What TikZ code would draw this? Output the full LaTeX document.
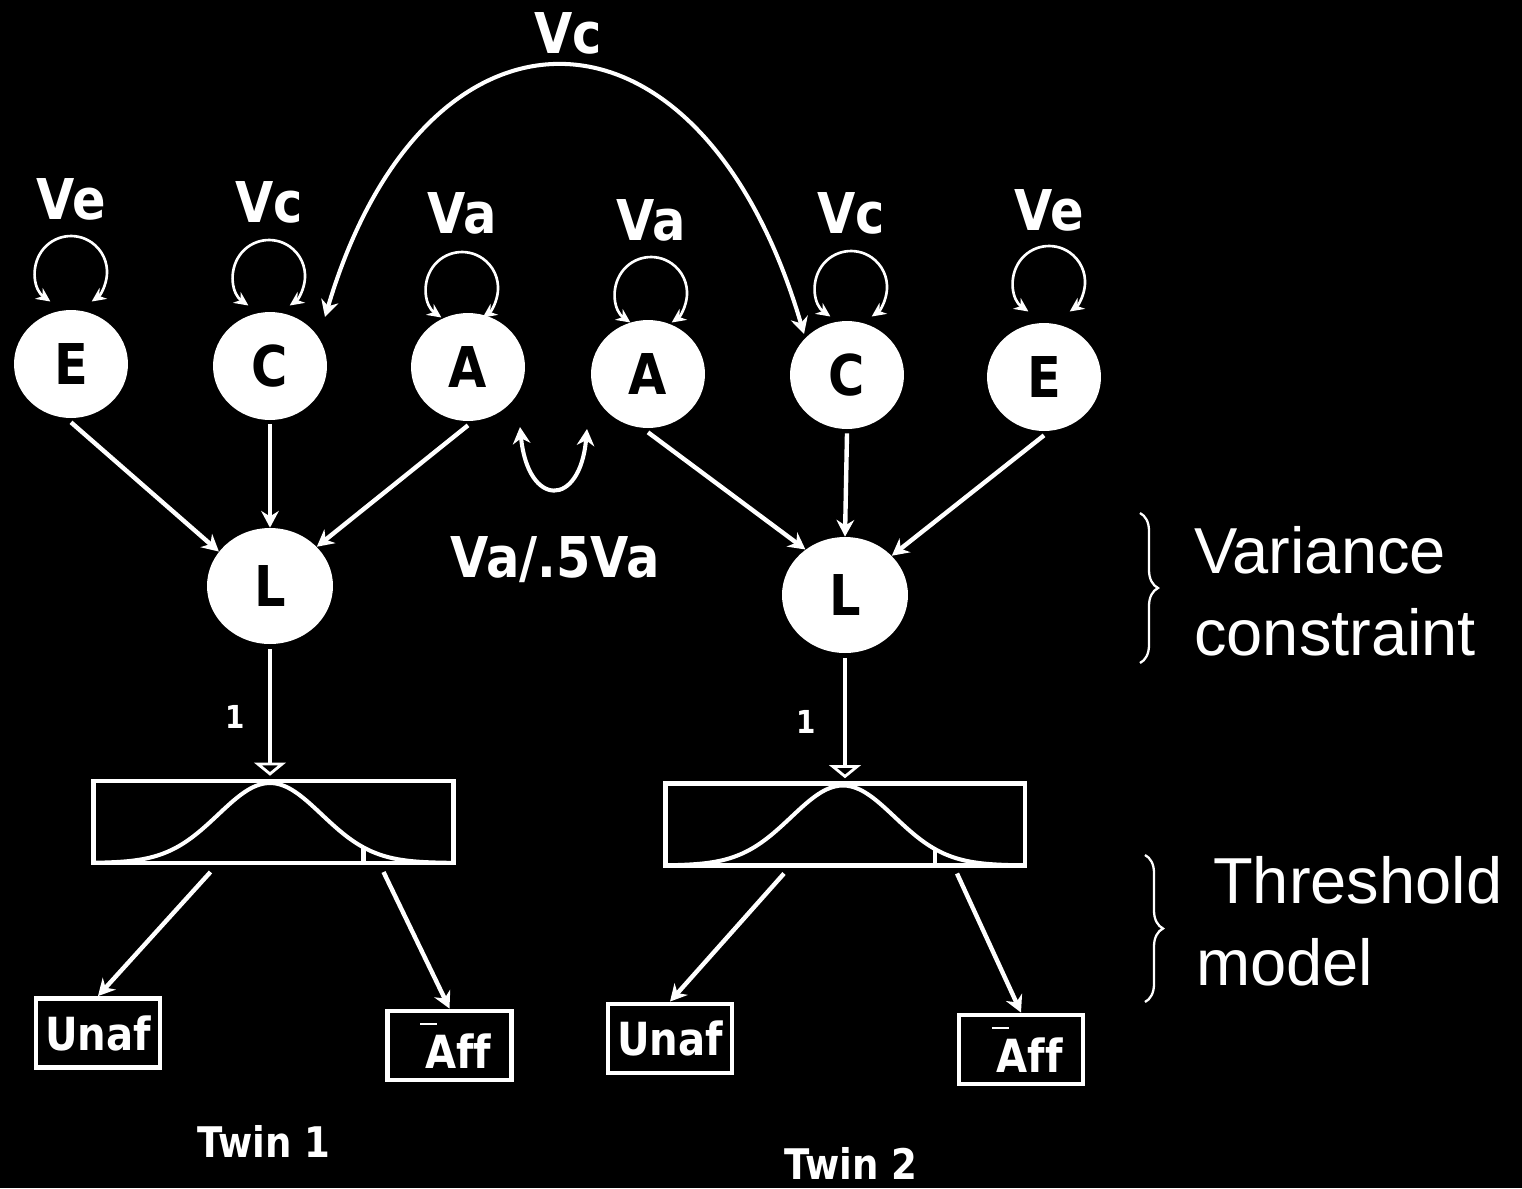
\documentclass[tikz,border=0pt]{standalone}
\usepackage{fontspec}
\newfontfamily\labfont{DejaVu Sans}[FakeStretch=0.88, Ligatures=NoCommon]
\newfontfamily\notefont{Liberation Sans}
\usetikzlibrary{arrows.meta}
\usetikzlibrary{shapes.geometric}
\usetikzlibrary{decorations.pathreplacing}

\newcommand{\affbar}{\hspace*{10pt}\makebox[0pt][l]{\hspace{-2.8pt}\raisebox{25pt}{\rule{9.6pt}{1.2pt}}}Af\kern0ptf}

\begin{document}
\begin{tikzpicture}[x=0.02cm, y=0.02cm,
    every node/.style={text=white},
    bigfont/.style={font=\labfont\bfseries\fontsize{32pt}{38pt}\selectfont},
    latent/.style={ellipse, fill=white, text=black, inner sep=0pt,
                   minimum width=2.28cm, minimum height=2.16cm, bigfont},
    liab/.style={latent, minimum width=2.52cm, minimum height=2.32cm},
    causal/.style={draw=white, line width=2.5pt, -{Stealth[length=9.5pt, width=10pt]}},
    selfloop/.style={draw=white, line width=1.5pt,
                     {Stealth[length=8pt, width=7.5pt]}-{Stealth[length=8pt, width=7.5pt]}},
    cov/.style={draw=white, line width=2.3pt,
                {Stealth[length=9.5pt, width=10pt]}-{Stealth[length=9.5pt, width=10pt]}},
    fix/.style={draw=white, line width=2.3pt, shorten >=3pt,
                -{Triangle[open, width=18pt, length=7.5pt, line width=1.6pt]}},
    thrbox/.style={draw=white, line width=2.8pt, outer sep=0pt, inner sep=0pt,
                   minimum width=7.2cm, minimum height=1.64cm},
    obsbox/.style={draw=white, line width=2.8pt, inner sep=0pt,
                   minimum width=2.48cm, minimum height=1.38cm,
                   font=\labfont\bfseries\fontsize{26pt}{30pt}\selectfont},
    bell/.style={draw=white, line width=2.3pt},
    onelab/.style={font=\labfont\bfseries\fontsize{18pt}{22pt}\selectfont},
    twinlab/.style={font=\labfont\bfseries\fontsize{24pt}{29pt}\selectfont},
    note/.style={font=\notefont\fontsize{37pt}{46pt}\selectfont, anchor=base west},
    brace1/.style={draw=white, line width=1.3pt, decorate,
                   decoration={brace, amplitude=0.36cm}}
  ]
  \useasboundingbox (0,0) rectangle (1522,-1188);
  \fill[black] (0,0) rectangle (1522,-1188);

  % latent factors, their variances and self loops
  \foreach \nm/\lab/\x/\y/\var/\lx/\vb/\ly in
     {E1/E/71/364/Ve/71/219/92, C1/C/270/366/Vc/269/222/90, A1/A/468/367/Va/462/233/79,
      A2/A/648/374/Va/651/240/81, C2/C/847/375/Vc/851/233/88, E2/E/1044/377/Ve/1049/230/95} {
     \node[latent] (\nm) at (\x,-\y) {\lab};
     \node[bigfont, anchor=base] (v\nm) at (\lx,-\vb) {\var};
     \draw[selfloop] ([shift={(\lx-\x-20.6,\ly-29.5)}]\nm.center)
        arc[start angle=235, end angle=-55, radius=36];
  }
  \node[liab] (L1) at (270,-586) {L};
  \node[liab] (L2) at (845,-595) {L};

  % paths to the liabilities
  \draw[causal] ([shift={(0,-4)}]E1.south) -- (L1.146);
  \draw[causal] ([shift={(0,-4)}]C1.south) -- (L1.north);
  \draw[causal] ([shift={(0,-4)}]A1.south) -- (L1.40);
  \draw[causal] ([shift={(0,-4)}]A2.south) -- (L2.131);
  \draw[causal] ([shift={(0,-4)}]C2.south) -- (L2.north);
  \draw[causal] ([shift={(0,-4)}]E2.south) -- (L2.40);

  % covariances between the twins
  \node[bigfont, anchor=base] (vctop) at (568,-53) {Vc};
  \draw[cov] ([shift={(55,49)}]C1.center) .. controls (425,20) and (700,20)
     .. ([shift={(-43,41)}]C2.center);
  \node[bigfont, anchor=base] (vadz) at (555,-577) {Va/.5Va};
  \draw[cov] ([shift={(52,-60)}]A1.center) .. controls (528,-508) and (580,-508)
     .. ([shift={(-61,-55)}]A2.center);

  % threshold model
  \node[thrbox] (T1) at (273.5,-822) {};
  \node[thrbox] (T2) at (845,-824.5) {};
  \foreach \t/\pk in {T1/-3.5, T2/-2} {
     \draw[bell, shift={(\t.south)}] plot[domain=-180:180, samples=90, smooth]
        (\x, {80*exp(-((\x-\pk)/51.7)^2/2)});
     \draw[bell] ([shift={(90,0)}]\t.south) -- ++(0,16);
  }
  \draw[fix] ([shift={(0,-5)}]L1.south) -- (L1.south |- T1.north);
  \draw[fix] ([shift={(0,-5)}]L2.south) -- (L2.south |- T2.north);
  \node[onelab] (one1) at (235,-717) {1};
  \node[onelab] (one2) at (806,-722) {1};

  \node[obsbox] (U1) at (98,-1033) {Unaf};
  \node[obsbox] (F1) at (449.5,-1045.5) {\affbar};
  \node[obsbox] (U2) at (670,-1038.5) {Unaf};
  \node[obsbox] (F2) at (1021,-1049.5) {\affbar};
  \draw[causal] ([shift={(-63,-9)}]T1.south) -- (U1.north);
  \draw[causal] ([shift={(110,-9)}]T1.south) -- (F1.north);
  \draw[causal] ([shift={(-61,-8)}]T2.south) -- (U2.north);
  \draw[causal] ([shift={(112,-8)}]T2.south) -- (F2.north);

  \node[twinlab] (tw1) at (264,-1141) {Twin 1};
  \node[twinlab] (tw2) at (851,-1163) {Twin 2};

  % notes on the right
  \node[note] (nv1) at (1188,-573) {Variance};
  \node[note] (nv2) at (1188,-655) {constraint};
  \node[note] (nt1) at (1207,-903) {Threshold};
  \node[note] (nt2) at (1190,-985) {model};
  \draw[brace1] (1140,-513) -- (1140,-663);
  \draw[brace1] (1145,-855) -- (1145,-1002);
\end{tikzpicture}
\end{document}
